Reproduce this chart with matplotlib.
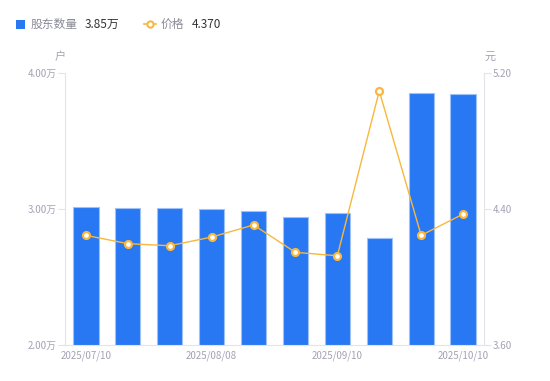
import matplotlib
matplotlib.use("Agg")
import matplotlib.pyplot as plt
from matplotlib.lines import Line2D
from matplotlib.patches import Rectangle

plt.rcParams['font.family'] = ['Noto Sans CJK SC', 'DejaVu Sans']

# data
dates = ['2025/07/10', '2025/07/20', '2025/07/31', '2025/08/08', '2025/08/20',
         '2025/08/29', '2025/09/10', '2025/09/19', '2025/09/30', '2025/10/10']
holders = [3.017, 3.011, 3.005, 2.998, 2.983, 2.939, 2.973, 2.785, 3.851, 3.846]  # 万户
price = [4.245, 4.196, 4.184, 4.235, 4.306, 4.145, 4.125, 5.094, 4.245, 4.370]
shown_ticks = [0, 3, 6, 9]

BLUE = '#2878F3'
ORANGE = '#F8B73E'
GREY = '#A2A2B5'
AXIS = '#E3E3EA'

W, H = 550, 381
fig = plt.figure(figsize=(W / 100, H / 100), dpi=100)
ax = fig.add_axes([65 / W, (H - 345) / H, (484 - 65) / W, (345 - 73) / H])
ax2 = ax.twinx()

x = list(range(len(dates)))
ax.bar(x, holders, width=0.6, color=BLUE, edgecolor='#9DC1F8', linewidth=0.8, zorder=2)
ax.set_xlim(-0.5, len(dates) - 0.5)
ax.set_ylim(2.0, 4.0)
ax.set_yticks([2.0, 3.0, 4.0])
ax.set_yticklabels(['%.2f万' % v for v in [2.0, 3.0, 4.0]])
ax.set_xticks(shown_ticks)
ax.set_xticklabels([dates[i] for i in shown_ticks])

ax2.plot(x, price, color=ORANGE, linewidth=1.0, marker='o', markersize=5,
         markerfacecolor='white', markeredgecolor=ORANGE, markeredgewidth=1.6, zorder=3)
ax2.set_ylim(3.6, 5.2)
ax2.set_yticks([3.6, 4.4, 5.2])
ax2.set_yticklabels(['%.2f' % v for v in [3.6, 4.4, 5.2]])

for a in (ax, ax2):
    for s in a.spines.values():
        s.set_visible(False)
    a.tick_params(labelsize=7, colors=GREY, length=5, width=0.8, pad=1)
    a.tick_params(axis='y', color=AXIS)
ax.spines['left'].set_visible(True)
ax.spines['left'].set_color(AXIS)
ax.spines['bottom'].set_visible(True)
ax.spines['bottom'].set_color(AXIS)
ax2.spines['right'].set_visible(True)
ax2.spines['right'].set_color(AXIS)
ax.tick_params(axis='x', length=0, pad=4)

fig.text(60 / W, 1 - 57 / H, '户', ha='center', va='center', fontsize=8, color=GREY)
fig.text(490 / W, 1 - 57 / H, '元', ha='center', va='center', fontsize=8, color=GREY)

# legend
ly = 1 - 24 / H
fig.patches.append(Rectangle((16 / W, 1 - 29 / H), 9 / W, 9 / H, transform=fig.transFigure,
                             facecolor=BLUE, edgecolor='none'))
fig.text(31 / W, ly, '股东数量', ha='left', va='center', fontsize=8.5, color='#8A8A99')
fig.text(85 / W, ly, '3.85万', ha='left', va='center', fontsize=8.5, color='#333333')
fig.lines.append(Line2D([144 / W, 156 / W], [ly, ly], transform=fig.transFigure, color=ORANGE,
                        linewidth=1.2, marker='o', markevery=[0], markersize=0))
fig.lines.append(Line2D([150 / W], [ly], transform=fig.transFigure, color=ORANGE, marker='o',
                        markersize=4.5, markerfacecolor='white', markeredgewidth=1.5, linestyle='none'))
fig.text(161 / W, ly, '价格', ha='left', va='center', fontsize=8.5, color='#8A8A99')
fig.text(192 / W, ly, '4.370', ha='left', va='center', fontsize=8.5, color='#333333')

fig.savefig('out.png', dpi=100)
